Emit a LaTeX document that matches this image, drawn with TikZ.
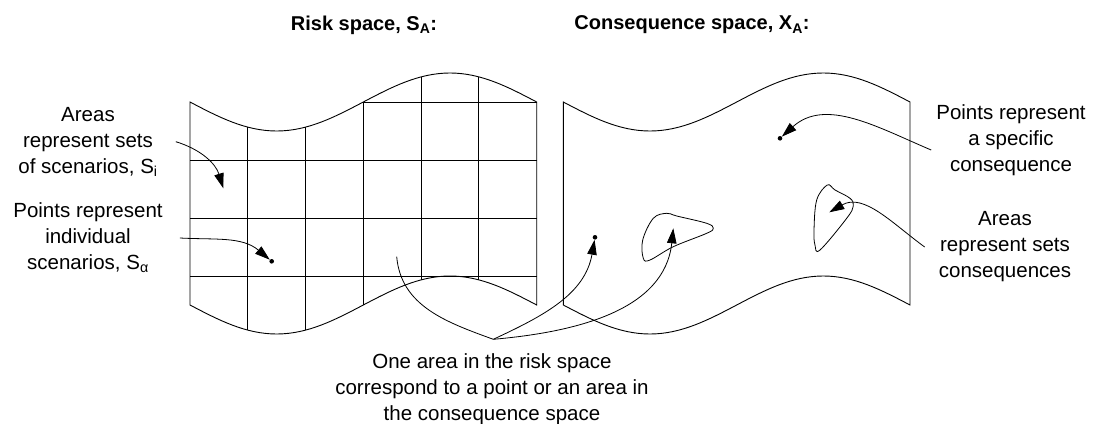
\documentclass[tikz,border=0pt]{standalone}
\usepackage{fontspec}
\setmainfont{Liberation Sans}
\usetikzlibrary{arrows.meta}

\begin{document}
\begin{tikzpicture}[x=1pt, y=-1pt,
      sheet/.style={line width=0.9pt},
      gridln/.style={line width=0.9pt},
      lbl/.style={align=center, inner sep=0pt,
                  font=\fontsize{20.5}{26}\selectfont},
      ttl/.style={inner sep=0pt, font=\fontsize{20}{24}\selectfont\bfseries},
      arr/.style={line width=0.8pt, -{Triangle[length=15pt,width=9.5pt]}},
      conn/.style={line width=0.8pt},
      pnt/.style={circle, fill=black, inner sep=0pt, minimum size=4.6pt},
    ]
      \useasboundingbox (0,0) rectangle (1103,423);

      % risk space sheet with its grid
      \draw[sheet] (190,102) sin (276.7,131) cos (363.3,102) sin (450,73)
        cos (536.7,102) -- (536.7,305) sin (450,276) cos (363.3,305)
        sin (276.7,334) cos (190,305) -- cycle;
      \foreach \i in {1,...,5}
        \draw[gridln] ({190+57.78*\i},{102+29*sin(60*\i)})
          -- ({190+57.78*\i},{305+29*sin(60*\i)});
      \draw[gridln] (363.3,102) -- (536.7,102);
      \foreach \y in {160,218,276}
        \draw[gridln] (190,\y) -- (536.7,\y);

      % consequence space sheet
      \draw[sheet] (563.3,102) sin (650,131) cos (736.7,102) sin (823.3,73)
        cos (910,102) -- (910,305) sin (823.3,276) cos (736.7,305)
        sin (650,334) cos (563.3,305) -- cycle;
      \draw[conn] plot[smooth cycle, tension=0.6] coordinates {(643.3,258.3)
        (642.7,240) (653.3,218.3) (666.7,213.3) (676.7,216) (706.7,223.3)
        (713.3,228.3) (706.7,233.3) (673.3,246.7) (650,260)};
      \draw[conn] plot[smooth cycle, tension=0.6] coordinates {(827.3,185)
        (835,190) (850,198.3) (853.3,206) (846.7,218.3) (820,250)
        (815,245) (814,230) (816.7,200)};

      \node[ttl] (tRisk) at (364,25) {Risk space, S\textsubscript{A}:};
      \node[ttl] (tCons) at (692,25) {Consequence space, X\textsubscript{A}:};

      \node[lbl] (areasS) at (88,141.7)
        {Areas\\represent sets\\of scenarios, S\textsubscript{i}};
      \node[lbl] (pointsS) at (88,238)
        {Points represent\\individual\\scenarios, S\textsubscript{α}};
      \node[lbl] (pointsC) at (1011,140)
        {Points represent\\a specific\\consequence};
      \node[lbl] (areasC) at (1005,247)
        {Areas\\represent sets\\consequences};
      \node[lbl] (corr) at (492,389)
        {One area in the risk space\\correspond to a point or an area in\\the consequence space};

      \node[pnt] (dotS) at (271.7,261.3) {};
      \node[pnt] (dotC) at (595,237.3) {};
      \node[pnt] (dotX) at (780,138.3) {};
      \coordinate (cellS) at (223.3,188.3);
      \coordinate (riskA) at (396.7,256.7);
      \coordinate (join) at (493.3,339.3);
      \coordinate (blobA) at (673.3,228.3);
      \coordinate (blobB) at (829.3,212.3);

      \draw[arr] ([xshift=18pt]areasS.east) to[out=-17,in=107] (cellS);
      \draw[arr] ([xshift=17pt]pointsS.east) to[out=-3,in=140] (dotS);
      \draw[arr] ([xshift=-5pt,yshift=-10pt]pointsC.west) to[out=157,in=42] (dotX);
      \draw[arr] ([xshift=-14pt]areasC.west) to[out=144,in=30] (blobB);
      \draw[conn] (join) to[out=160,in=-85] (riskA);
      \draw[arr] (join) to[out=25,in=-100] (dotC);
      \draw[arr] (join) to[out=5,in=-96] (blobA);
    \end{tikzpicture}
\end{document}
